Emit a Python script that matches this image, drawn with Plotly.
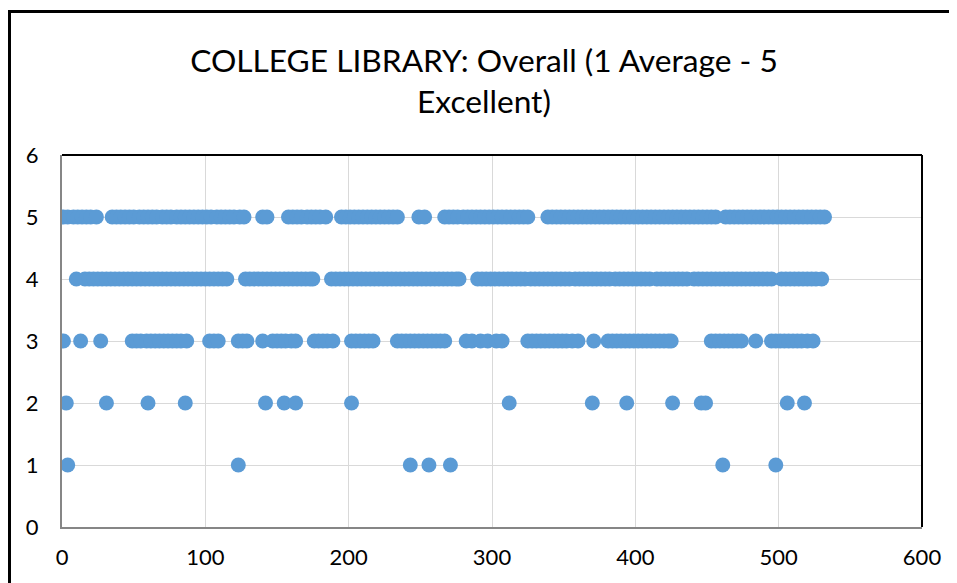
import plotly.graph_objects as go

# Response number (x) for each overall rating (y)
rating5_x = [1, 4, 8, 11, 14, 17, 20, 24,
             35, 38, 41, 44, 47, 50, 54, 57, 60, 63, 66, 70, 73, 76, 80, 83, 86, 89, 92, 95,
             98, 101, 104, 108, 111, 114, 117, 120, 124, 127,
             140, 143,
             158, 161, 164, 167, 171, 174, 177, 180, 184,
             195, 198, 201, 204, 207, 210, 213, 216, 219, 222, 225, 228, 231, 234,
             249, 253,
             267, 270, 273, 276, 280, 283, 286, 289, 292, 295, 298, 301, 304, 307, 310, 313,
             316, 319, 322, 325,
             339, 342, 345, 348, 351, 354, 357, 360, 363, 366, 369, 372, 375, 378, 381, 384,
             387, 390, 393, 396, 399, 402, 405, 408, 411, 414, 417, 420, 423, 426, 429, 432,
             435, 438, 441, 444, 447, 450, 453, 456, 463, 466, 469, 472, 475, 478, 481, 484,
             487, 490, 493, 496, 499, 502, 505, 508, 511, 514, 517, 520, 523, 526, 529, 532]

rating4_x = [10, 16, 19, 22, 25, 28, 31, 34, 37, 40, 43, 46, 49, 52, 55, 58, 61, 64, 67, 70,
             73, 76, 79, 82, 85, 88, 91, 94, 97, 100, 103, 106, 109, 112, 115,
             128, 131, 134, 137, 140, 143, 146, 149, 152, 155, 158, 161, 164, 167, 170, 173, 175,
             188, 191, 194, 197, 200, 203, 206, 209, 212, 215, 218, 221, 224, 227, 230, 233,
             236, 239, 242, 245, 248, 251, 254, 257, 260, 263, 266, 269, 272, 275, 277,
             290, 293, 296, 299, 302, 305, 308, 311, 314, 317, 320, 323, 327, 330, 333, 336,
             339, 342, 345, 348, 351, 354, 358, 361, 364, 367, 370, 373, 376, 379, 382, 386,
             389, 392, 395, 398, 401, 404, 407, 410, 415, 418, 421, 424, 427, 430, 433, 436,
             441, 444, 447, 450, 453, 456, 459, 462, 465, 468, 471, 474, 477, 480, 483, 486,
             489, 492, 495, 502, 505, 508, 511, 514, 517, 520, 523, 526, 530]

rating3_x = [1, 13, 27,
             49, 52, 55, 59, 62, 65, 68, 71, 74, 77, 80, 83, 87,
             103, 106, 109,
             123, 126, 129,
             140, 147, 150, 153, 156, 160, 163,
             176, 179, 182, 185, 189,
             202, 205, 208, 211, 214, 217,
             234, 237, 240, 243, 246, 249, 252, 255, 258, 261, 264, 267,
             282, 286, 292, 297, 303, 307,
             325, 328, 331, 334, 337, 340, 343, 346, 349, 352, 356, 360,
             371,
             381, 384, 387, 390, 393, 396, 399, 402, 405, 408, 411, 414, 417, 420, 423, 425,
             453, 456, 459, 462, 465, 468, 471, 474, 484,
             495, 498, 501, 504, 507, 510, 513, 516, 520, 524]

rating2_x = [3, 31, 60, 86, 142, 155, 163, 202, 312, 370, 394, 426, 446, 449, 506, 518]

rating1_x = [4, 123, 243, 256, 271, 461, 498]

ratings = [5, 4, 3, 2, 1]
x_lists = [rating5_x, rating4_x, rating3_x, rating2_x, rating1_x]

x_ticks = [0, 100, 200, 300, 400, 500, 600]
y_ticks = [0, 1, 2, 3, 4, 5, 6]

title_text = "COLLEGE LIBRARY: Overall (1 Average - 5<br>Excellent)"

xs, ys = [], []
for r, xl in zip(ratings, x_lists):
    xs.extend(xl)
    ys.extend([r] * len(xl))

FONT = "Lato, 'Open Sans', sans-serif"

fig = go.Figure()
fig.add_trace(go.Scatter(
    x=xs, y=ys, mode="markers",
    marker=dict(size=15, color="#5B9BD5", line=dict(width=0)),
    showlegend=False, hoverinfo="x+y",
))

# The page body adds an 8px offset, so the figure is 8px smaller than the window.
W, H = 949, 575
ML, MT = 54, 147
PW, PH = 860.0, 372.0  # plot area size in px
fig.update_layout(
    template="none",
    width=W, height=H,
    paper_bgcolor="white", plot_bgcolor="white",
    margin=dict(l=ML, r=W - ML - PW, t=MT, b=H - MT - PH, pad=0),
    title=dict(text=title_text, x=476 / W, xref="container", xanchor="center",
               y=1 - 64 / H, yref="container", yanchor="top",
               font=dict(family=FONT, size=31.7, color="black")),
    font=dict(family=FONT, color="black"),
    shapes=[
        # outer chart border
        dict(type="rect", xref="paper", yref="paper",
             x0=(1.5 - ML) / PW, x1=1.2, y0=-0.5, y1=1 + (MT - 3.5) / PH,
             line=dict(color="black", width=3), fillcolor="rgba(0,0,0,0)", layer="below"),
        # plot area border (top, right)
        dict(type="line", xref="paper", yref="paper", x0=0, x1=1, y0=1, y1=1,
             line=dict(color="black", width=2)),
        dict(type="line", xref="paper", yref="paper", x0=1, x1=1, y0=0, y1=1,
             line=dict(color="black", width=2)),
    ],
)

fig.update_xaxes(range=[0, 600], tickvals=x_ticks, showgrid=True, gridcolor="#D9D9D9", gridwidth=1,
                 zeroline=False, showline=True, linecolor="#868686", linewidth=2, mirror=False,
                 automargin=False, ticks="", ticklabelstandoff=10,
                 tickfont=dict(size=22, family=FONT, color="black"))
fig.update_yaxes(range=[0, 6], tickvals=y_ticks, showgrid=True, gridcolor="#D9D9D9", gridwidth=1,
                 zeroline=False, showline=True, linecolor="#868686", linewidth=2, mirror=False,
                 automargin=False, ticks="", ticklabelstandoff=17,
                 tickfont=dict(size=22, family=FONT, color="black"))

fig.write_html("out.html")
